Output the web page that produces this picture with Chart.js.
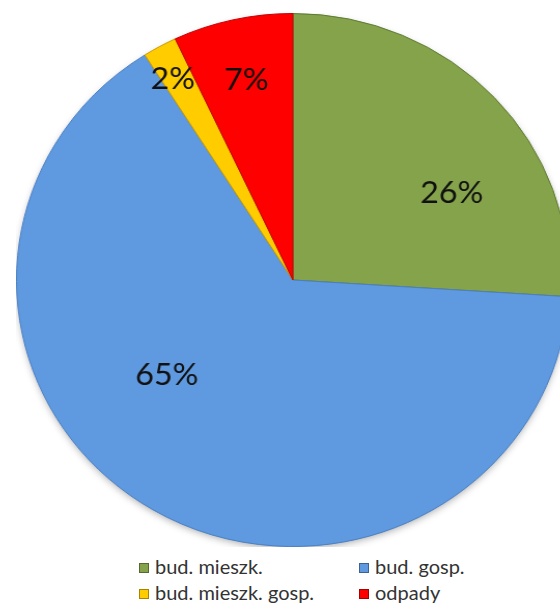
<!DOCTYPE html>
<html>
<head>
<meta charset="utf-8">
<script src="https://cdn.jsdelivr.net/npm/chart.js@4.4.1/dist/chart.umd.min.js"></script>
<style>
  body { margin: 0; background: #fff; width: 560px; height: 605px; overflow: hidden; position: relative; font-family: Lato, "Open Sans", sans-serif; }
  #wrap { position: absolute; left: 16px; top: 13px; width: 534px; height: 534px; transform: scaleX(1.037); transform-origin: 0 0; }
  #legend { position: absolute; left: 139px; top: 555px; width: 420px; }
  .item { position: absolute; font-size: 20px; color: #333; white-space: nowrap; line-height: 22px; }
  .box { display: inline-block; width: 10px; height: 10px; margin-right: 6px; vertical-align: 1px; border: 1px solid rgba(0,0,0,0.35); box-sizing: border-box; }
</style>
</head>
<body>
<div id="wrap"><canvas id="pie" width="534" height="534"></canvas></div>
<div id="legend"></div>
<script>
// Categories and values
const categories = ['bud. mieszk.', 'bud. gosp.', 'bud. mieszk. gosp.', 'odpady'];
const shares = [26, 65, 2, 7];
const sliceColors = ['#84A34B', '#5F99DF', '#FFCC00', '#FF0000'];
const edgeColors = ['#5f7a33', '#4a80c4', '#c79a00', '#c40000'];

// Where each % label sits: fraction of radius and angle nudge (deg), roughly like Excel's best fit
const labelPlace = [
    { r: 0.66, da: 13.7 },
    { r: 0.58, da: 21.3 },
    { r: 0.87, da: -1.2 },
    { r: 0.77, da: 0 }
];

// soft shadow under the whole pie
const pieShadow = {
    id: 'pieShadow',
    beforeDatasetsDraw(chart) {
        const arc = chart.getDatasetMeta(0).data[0];
        if (!arc) return;
        const p = arc.getProps(['x', 'y', 'outerRadius'], true);
        const ctx = chart.ctx;
        ctx.save();
        ctx.shadowColor = 'rgba(0,0,0,0.4)';
        ctx.shadowBlur = 8;
        ctx.shadowOffsetY = 3;
        ctx.fillStyle = '#fff';
        ctx.beginPath();
        ctx.arc(p.x, p.y, p.outerRadius - 2, 0, Math.PI * 2);
        ctx.fill();
        ctx.restore();
    }
};

// draw the percentage labels on top of the slices
const pctLabels = {
    id: 'pctLabels',
    afterDatasetsDraw(chart) {
        const ctx = chart.ctx;
        const meta = chart.getDatasetMeta(0);
        ctx.save();
        ctx.font = '31px Lato, "Open Sans", sans-serif';
        ctx.fillStyle = '#111';
        ctx.textAlign = 'center';
        ctx.textBaseline = 'middle';
        meta.data.forEach((arc, i) => {
            const p = arc.getProps(['x', 'y', 'startAngle', 'endAngle', 'outerRadius'], true);
            const mid = (p.startAngle + p.endAngle) / 2 + labelPlace[i].da * Math.PI / 180;
            const r = p.outerRadius * labelPlace[i].r;
            ctx.fillText(shares[i] + '%', p.x + Math.cos(mid) * r, p.y + Math.sin(mid) * r);
        });
        ctx.restore();
    }
};

const ctx = document.getElementById('pie').getContext('2d');
window.myChart = new Chart(ctx, {
    type: 'pie',
    data: {
        labels: categories,
        datasets: [{
            data: shares,
            backgroundColor: sliceColors,
            borderColor: edgeColors,
            borderWidth: 1
        }]
    },
    options: {
        responsive: false,
        animation: false,
        devicePixelRatio: 1,
        layout: { padding: 0 },
        plugins: {
            legend: { display: false },
            tooltip: { enabled: false }
        }
    },
    plugins: [pieShadow, pctLabels]
});

// legend in two columns, built from the same arrays
const legend = document.getElementById('legend');
const cols = [0, 220];
categories.forEach((name, i) => {
    const el = document.createElement('div');
    el.className = 'item';
    el.style.left = cols[i % 2] + 'px';
    el.style.top = (Math.floor(i / 2) * 26) + 'px';
    el.innerHTML = '<span class="box" style="background:' + sliceColors[i] + '"></span>' + name;
    legend.appendChild(el);
});
</script>
</body>
</html>
